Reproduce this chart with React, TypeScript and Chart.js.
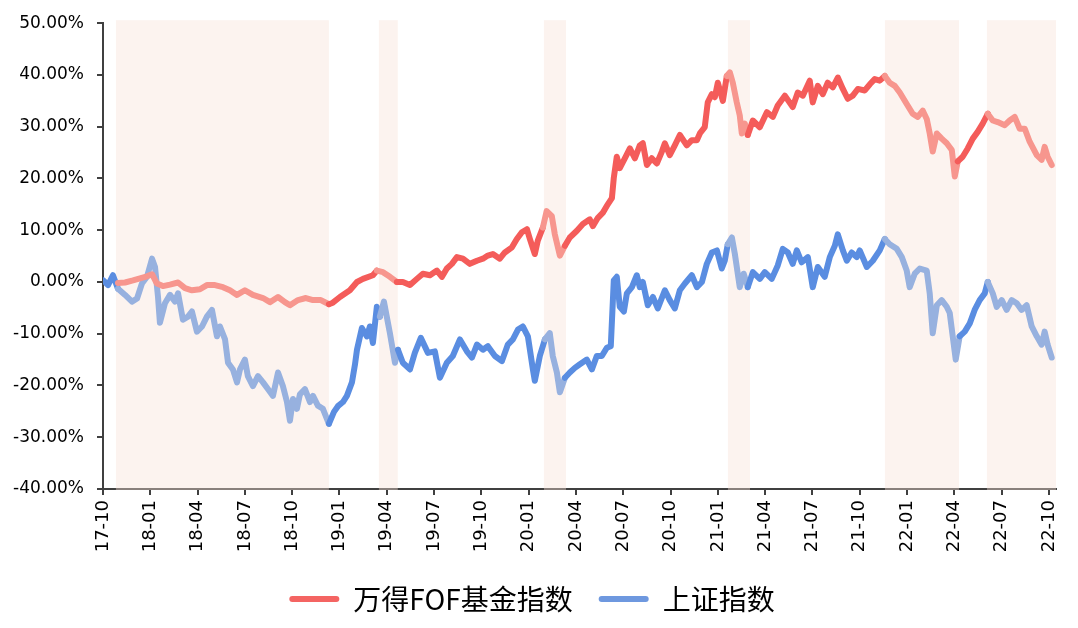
import React, { useEffect, useRef } from 'react';
import { Chart, registerables } from 'chart.js';

Chart.register(...registerables);

// x positions are months since 2017-10 (0 = 17-10, 3 = 18-01, ...)
const xTickLabels = [
  '17-10', '18-01', '18-04', '18-07', '18-10', '19-01', '19-04', '19-07', '19-10',
  '20-01', '20-04', '20-07', '20-10', '21-01', '21-04', '21-07', '21-10',
  '22-01', '22-04', '22-07', '22-10',
];

const shadeStart = [0.82, 17.5, 27.97, 39.64, 49.6, 56.07];
const shadeEnd = [14.33, 18.7, 29.37, 41.04, 54.3, 60.45];

const seriesNames = ['万得FOF基金指数', '上证指数'];

const fofMonths = [
  0.95, 1.4, 1.9, 2.35, 2.79, 3.11, 3.42, 3.8, 4.25, 4.76, 5.2, 5.64, 6.15, 6.59, 7.1, 7.61,
  8.05, 8.5, 9.0, 9.51, 10.15, 10.59, 11.1, 11.54, 11.86, 12.37, 12.87, 13.32, 13.82, 14.33,
  14.58, 15.03, 15.66, 16.11, 16.49, 17.12, 17.37, 17.76, 18.2, 18.64, 19.02, 19.47, 19.91,
  20.29, 20.74, 21.18, 21.5, 21.81, 22.13, 22.45, 22.83, 23.27, 23.72, 24.1, 24.41, 24.73,
  25.17, 25.49, 25.94, 26.25, 26.57, 26.89, 27.08, 27.39, 27.58, 27.9, 28.14, 28.47, 28.66,
  28.98, 29.3, 29.61, 30.06, 30.44, 30.88, 31.07, 31.39, 31.71, 32.02, 32.28, 32.4, 32.59,
  32.78, 33.1, 33.42, 33.74, 34.05, 34.24, 34.5, 34.81, 35.13, 35.45, 35.64, 35.95, 36.27,
  36.59, 37.03, 37.35, 37.67, 37.86, 38.17, 38.36, 38.62, 38.81, 39.0, 39.32, 39.57, 39.76,
  39.95, 40.2, 40.39, 40.52, 40.71, 40.9, 41.22, 41.66, 42.11, 42.49, 42.8, 43.25, 43.75,
  44.07, 44.39, 44.83, 45.02, 45.34, 45.66, 45.97, 46.29, 46.61, 46.93, 47.24, 47.56, 47.88,
  48.32, 48.64, 48.95, 49.27, 49.59, 49.9, 50.22, 50.54, 50.98, 51.36, 51.68, 52.0, 52.25,
  52.44, 52.63, 52.89, 53.2, 53.52, 53.84, 54.03, 54.22, 54.53, 54.85, 55.17, 55.48, 55.8,
  56.12, 56.44, 56.75, 57.2, 57.51, 57.83, 58.15, 58.47, 58.78, 59.23, 59.54, 59.73, 59.92,
  60.18,
];
const fofValues = [
  -0.2, -0.1, 0.3, 0.7, 1.1, 1.5, -0.3, -0.8, -0.5, -0.1, -1.2, -1.6, -1.4, -0.6, -0.6, -1.0,
  -1.6, -2.5, -1.6, -2.5, -3.1, -3.9, -2.9, -3.9, -4.5, -3.5, -3.1, -3.5, -3.5, -4.3,
  -4.0, -2.9, -1.6, 0.0, 0.6, 1.3, 2.2, 1.9, 1.0, 0.0, 0.0, -0.6, 0.6,
  1.6, 1.3, 2.2, 1.0, 2.6, 3.5, 4.8, 4.5, 3.5, 4.1, 4.5, 5.1, 5.4,
  4.5, 5.7, 6.7, 8.3, 9.6, 10.2, 8.3, 5.4, 8.0, 10.5, 13.7, 12.7, 9.2,
  5.1, 7.0, 8.6, 9.9, 11.2, 12.1, 10.8, 12.4, 13.4, 15.0, 16.2, 20.1, 24.2,
  22.0, 23.9, 25.8, 23.9, 26.4, 26.8, 22.6, 23.9, 22.9, 25.2, 26.8, 24.5, 26.4,
  28.4, 26.4, 27.4, 27.4, 28.7, 29.9, 34.7, 36.3, 35.7, 38.5, 35.0, 39.8, 40.5,
  38.5, 34.7, 32.2, 28.7, 30.6, 28.4, 31.2, 29.9, 32.8, 31.9, 34.1, 36.0, 33.8,
  36.6, 36.0, 38.9, 34.7, 37.9, 36.3, 38.5, 37.6, 39.5, 37.3, 35.4, 36.0, 37.3,
  37.0, 38.2, 39.2, 38.9, 39.8, 38.5, 37.9, 36.6, 34.4, 32.5, 31.9, 33.1, 31.5,
  28.7, 25.2, 28.7, 27.7, 26.8, 25.5, 20.4, 23.3, 24.2, 25.8, 27.7, 29.0, 30.6,
  32.5, 31.2, 30.9, 30.3, 31.2, 31.9, 29.6, 29.6, 27.1, 24.5, 23.6, 26.1, 24.2,
  22.6,
];

const shMonths = [
  0.02, 0.32, 0.63, 0.95, 1.4, 1.84, 2.16, 2.47, 2.79, 3.11, 3.3, 3.49, 3.61, 3.93, 4.25,
  4.57, 4.76, 5.07, 5.39, 5.64, 5.96, 6.28, 6.59, 6.91, 7.23, 7.42, 7.74, 7.93, 8.24, 8.5,
  8.69, 9.0, 9.19, 9.51, 9.83, 10.15, 10.46, 10.78, 11.1, 11.41, 11.67, 11.86, 12.05, 12.3,
  12.49, 12.81, 13.13, 13.32, 13.63, 13.95, 14.33, 14.65, 14.9, 15.22, 15.47, 15.79, 15.98,
  16.11, 16.42, 16.74, 16.93, 17.12, 17.37, 17.56, 17.82, 18.2, 18.52, 18.71, 19.02, 19.47,
  19.78, 20.16, 20.61, 21.05, 21.37, 21.81, 22.19, 22.64, 23.08, 23.4, 23.72, 24.1, 24.41,
  24.86, 25.3, 25.68, 26.0, 26.32, 26.63, 26.95, 27.27, 27.39, 27.71, 28.03, 28.34, 28.53,
  28.79, 28.98, 29.3, 29.61, 29.93, 30.25, 30.69, 31.01, 31.32, 31.64, 31.96, 32.21, 32.4,
  32.59, 32.78, 33.04, 33.23, 33.55, 33.86, 34.05, 34.24, 34.56, 34.88, 35.19, 35.64, 35.95,
  36.27, 36.59, 36.91, 37.35, 37.67, 37.99, 38.3, 38.62, 38.94, 39.25, 39.44, 39.63, 39.89,
  40.08, 40.39, 40.64, 40.9, 41.22, 41.66, 41.98, 42.42, 42.8, 43.12, 43.44, 43.75, 44.01,
  44.32, 44.71, 45.02, 45.34, 45.78, 46.1, 46.42, 46.61, 46.93, 47.18, 47.49, 47.81, 48.0,
  48.45, 48.83, 49.27, 49.59, 49.9, 50.35, 50.67, 50.98, 51.17, 51.49, 51.81, 52.25, 52.44,
  52.63, 52.89, 53.2, 53.52, 53.71, 53.9, 54.09, 54.34, 54.66, 54.98, 55.29, 55.61, 55.93,
  56.12, 56.44, 56.69, 57.01, 57.32, 57.64, 57.96, 58.27, 58.59, 58.91, 59.23, 59.54, 59.73,
  59.92, 60.18,
];
const shValues = [
  0.3, -0.6, 1.3, -1.3, -2.5, -3.8, -3.2, -0.3, 1.0, 4.5, 2.9, -2.9, -7.9, -4.1, -2.5,
  -3.8, -2.2, -7.3, -6.7, -5.7, -9.6, -8.6, -6.7, -5.4, -10.5, -8.6, -11.1, -15.6, -16.9, -19.4,
  -16.9, -15.0, -18.2, -20.1, -18.2, -19.4, -20.7, -22.0, -17.5, -20.1, -23.2, -26.8, -22.6, -24.5,
  -21.7, -20.7, -23.2, -22.0, -23.9, -24.5, -27.4, -25.1, -24.0, -23.2, -22.0, -19.4, -16.0,
  -13.1, -8.9, -10.5, -8.6, -11.8, -4.8, -6.7, -3.8, -9.9, -15.6, -13.1, -15.6, -16.9,
  -13.7, -10.8, -13.7, -13.4, -18.5, -15.6, -14.3, -11.1, -13.4, -14.6, -12.1, -13.1, -12.4,
  -14.3, -15.3, -12.1, -11.1, -9.2, -8.6, -10.5, -16.9, -19.1, -14.3, -11.1, -9.9, -14.3,
  -17.5, -21.3, -18.5, -17.5, -16.6, -15.9, -15.0, -16.9, -14.3, -14.3, -12.7, -12.4, 0.3,
  1.0, -4.8, -5.7, -2.2, -1.0, 1.3, -1.0, 0.0, -4.5, -2.9, -5.1, -1.6, -3.5,
  -5.1, -1.6, -0.3, 1.3, -1.0, 0.0, 3.5, 5.7, 6.1, 2.6, 4.1, 7.3, 8.6,
  5.4, -1.0, 1.6, -1.0, 1.9, 0.6, 1.9, 0.6, 3.2, 6.4, 5.7, 3.5, 6.1,
  3.8, 4.8, -1.0, 2.9, 1.0, 4.8, 7.0, 9.2, 6.1, 4.1, 5.7, 4.8, 6.1,
  2.9, 4.1, 6.1, 8.3, 7.3, 6.4, 4.8, 2.2, -1.0, 1.6, 2.6, 2.2, -2.2,
  -9.9, -4.5, -3.5, -4.8, -6.0, -10.5, -15.0, -10.5, -9.6, -8.0, -5.4, -3.5, -2.2,
  0.0, -2.2, -4.8, -3.5, -5.4, -3.5, -4.1, -5.4, -4.5, -8.6, -10.5, -12.1, -9.6,
  -12.1, -14.6,
];

const RED = '#F45C5A';
const RED_FADE = '#F7968E';
const BLUE = '#5A8DE1';
const BLUE_FADE = '#97B1DF';
const LEGEND_COLORS = ['#F46462', '#6E98DF'];
const AXIS = '#404040';
const TICK_FONT = "'DejaVu Sans', 'Noto Sans', sans-serif";
const CJK_FONT = "'Noto Sans CJK SC', 'Noto Sans', sans-serif";

const inShade = (m: number) => shadeStart.some((s, i) => m >= s && m <= shadeEnd[i]);

const shadePlugin = {
  id: 'shadePeriods',
  beforeDatasetsDraw(chart: any) {
    const { ctx, chartArea, scales } = chart;
    const xs = scales.x;
    ctx.save();
    ctx.fillStyle = 'rgba(247, 226, 214, 0.4)';
    shadeStart.forEach((s, i) => {
      const x1 = Math.max(chartArea.left, xs.getPixelForValue(s));
      const x2 = Math.min(chartArea.right, xs.getPixelForValue(shadeEnd[i]));
      ctx.fillRect(x1, chartArea.top - 3, x2 - x1, chartArea.bottom - chartArea.top + 4);
    });
    ctx.restore();
  },
};

export default function App() {
  const canvasRef = useRef<HTMLCanvasElement>(null);

  useEffect(() => {
    if (!canvasRef.current) return;
    const chart = new Chart(canvasRef.current, {
      type: 'line',
      data: {
        datasets: [
          {
            label: seriesNames[0],
            data: fofMonths.map((m, i) => ({ x: m, y: fofValues[i] })),
            borderColor: RED,
            backgroundColor: RED,
            borderWidth: 6,
            pointRadius: 0,
            tension: 0,
            borderJoinStyle: 'round',
            borderCapStyle: 'round',
            segment: {
              borderColor: (c: any) => (inShade((c.p0.parsed.x + c.p1.parsed.x) / 2) ? RED_FADE : RED),
            },
          },
          {
            label: seriesNames[1],
            data: shMonths.map((m, i) => ({ x: m, y: shValues[i] })),
            borderColor: BLUE,
            backgroundColor: BLUE,
            borderWidth: 6,
            pointRadius: 0,
            tension: 0,
            borderJoinStyle: 'round',
            borderCapStyle: 'round',
            segment: {
              borderColor: (c: any) => (inShade((c.p0.parsed.x + c.p1.parsed.x) / 2) ? BLUE_FADE : BLUE),
            },
          },
        ],
      },
      options: {
        responsive: false,
        animation: false,
        devicePixelRatio: 1,
        layout: { padding: { left: 8, right: 22, top: 20, bottom: 5 } },
        scales: {
          x: {
            type: 'linear',
            min: 0,
            max: 60.45,
            afterFit: (s: any) => { s.height = 70; },
            ticks: {
              stepSize: 3,
              includeBounds: false,
              autoSkip: false,
              maxRotation: 90,
              minRotation: 90,
              padding: 5,
              color: '#000',
              font: { family: TICK_FONT, size: 18 },
              callback: (v: any) => xTickLabels[Math.round(Number(v) / 3)] ?? '',
            },
            grid: { drawOnChartArea: false, drawTicks: true, tickLength: 6, color: AXIS, lineWidth: 2 },
            border: { display: true, color: AXIS, width: 2 },
          },
          y: {
            type: 'linear',
            min: -40,
            max: 50,
            afterFit: (s: any) => { s.width = 95; },
            ticks: {
              stepSize: 10,
              padding: 13,
              color: '#000',
              font: { family: TICK_FONT, size: 17 },
              callback: (v: any) => Number(v).toFixed(2) + '%',
            },
            grid: { drawOnChartArea: false, drawTicks: true, tickLength: 6, color: AXIS, lineWidth: 2 },
            border: { display: true, color: AXIS, width: 2 },
          },
        },
        plugins: {
          tooltip: { enabled: false },
          legend: {
            position: 'bottom',
            labels: {
              boxWidth: 50,
              boxHeight: 6,
              padding: 26,
              color: '#000',
              font: { family: CJK_FONT, size: 28 },
              useBorderRadius: true,
              borderRadius: 3,
              generateLabels: (ch: any) =>
                ch.data.datasets.map((ds: any, i: number) => ({
                  text: ds.label,
                  fillStyle: LEGEND_COLORS[i],
                  strokeStyle: LEGEND_COLORS[i],
                  lineWidth: 0,
                  hidden: false,
                  datasetIndex: i,
                  borderRadius: 3,
                })),
            },
          },
        },
      },
      plugins: [shadePlugin],
    } as any);
    return () => chart.destroy();
  }, []);

  return (
    <div style={{ position: 'absolute', left: 0, top: 0, width: 1078, height: 628, background: '#fff' }}>
      <canvas ref={canvasRef} width={1078} height={628} />
    </div>
  );
}
